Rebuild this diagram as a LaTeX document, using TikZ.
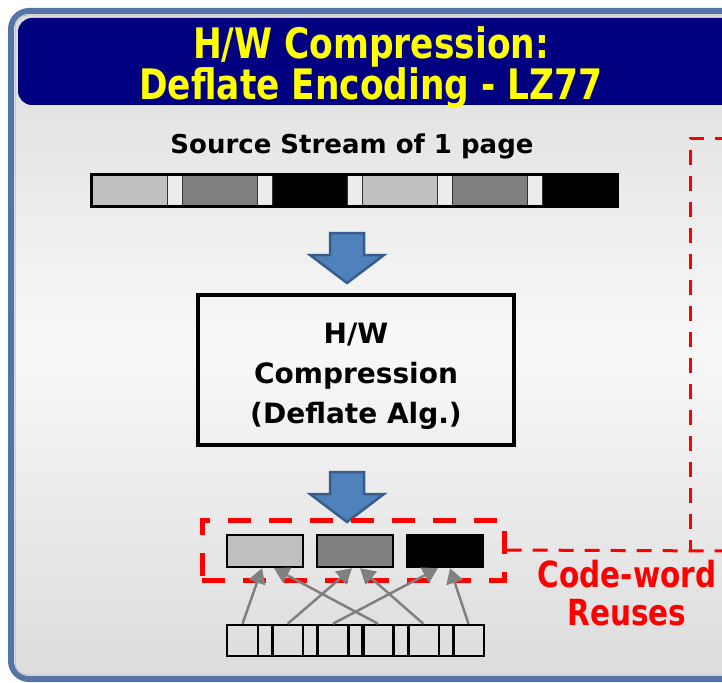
\documentclass[tikz,border=0pt]{standalone}
\usepackage{fontspec}
\setmainfont{DejaVu Sans}
\newfontfamily\narrowfont[FakeStretch=0.82]{DejaVu Sans}
\usetikzlibrary{arrows.meta, positioning, calc}

\definecolor{navy}{RGB}{0,0,128}
\definecolor{titleyellow}{RGB}{255,255,0}
\definecolor{lightseg}{RGB}{192,192,192}
\definecolor{darkseg}{RGB}{128,128,128}
\definecolor{gapseg}{RGB}{236,236,236}
\definecolor{arrowblue}{RGB}{79,129,189}
\definecolor{arrowedge}{RGB}{56,93,138}
\definecolor{refgray}{RGB}{128,128,128}
\definecolor{framblue}{RGB}{84,116,168}
\definecolor{panelgray}{RGB}{220,220,220}
\definecolor{panelwhite}{RGB}{248,248,248}

\begin{document}
\begin{tikzpicture}[
    x=1pt, y=-1pt,
    bararrow/.style={fill=arrowblue, draw=arrowedge, line width=2.5pt, line join=miter},
    segbox/.style={rectangle, draw=black!80, line width=1pt, minimum width=75pt, minimum height=31pt, inner sep=0pt},
    gapbox/.style={segbox, fill=gapseg, minimum width=15pt},
    cwbox/.style={rectangle, draw=black, line width=2.5pt, minimum width=76pt, minimum height=32pt, inner sep=0pt},
    cellbox/.style={rectangle, draw=black, line width=2.5pt, minimum height=31pt, inner sep=0pt},
    reuse/.style={draw=red, line width=5pt, dash pattern=on 23pt off 18pt},
    reuseline/.style={draw=red, line width=3pt, dash pattern=on 15pt off 11pt},
    refarrow/.style={-{Triangle[length=15pt, width=17pt]}, draw=refgray, line width=2.5pt},
    title/.style={font=\narrowfont\bfseries\fontsize{42}{41}\selectfont, align=center}
]
\useasboundingbox (0,0) rectangle (722,682);
\clip (0,0) rectangle (722,682);

% Frame and panel
\draw[framblue, line width=6pt, rounded corners=18pt] (11,11) rectangle (780,679);
\shade[top color=panelgray, bottom color=panelgray, middle color=panelwhite, draw=black!25, line width=1pt, rounded corners=12pt]
    (15,15) rectangle (780,675);

% Title banner
\fill[navy, rounded corners=14pt] (18,18) rectangle (780,105);
\node[title, text=titleyellow] (title) at (371,68) {H/W Compression:\\Deflate Encoding - LZ77};

% Source stream
\node[font=\bfseries\fontsize{26}{30}\selectfont] (srclabel) at (352,146) {Source Stream of 1 page};
\foreach \i/\col in {0/lightseg, 1/darkseg, 2/black, 3/lightseg, 4/darkseg, 5/black}
    \node[segbox, fill=\col] (seg\i) at ({129.5+90*\i},190.5) {};
\foreach \i in {0,...,4}
    \node[gapbox] (gap\i) at ({174.5+90*\i},190.5) {};
\draw[black, line width=2.5pt] (seg0.north west) rectangle (seg5.south east);

% Block arrow to compressor
\draw[bararrow] (330,233) -- (364,233) -- (364,255) -- (384,255) -- (347,283) -- (310,255) -- (330,255) -- cycle;

% Compressor
\node[rectangle, draw=black, line width=3.5pt, minimum width=316pt, minimum height=150pt] (hwbox) at (356,370) {};
\node[align=center, font=\bfseries\fontsize{28}{40}\selectfont] (hwtext) at (356,376) {H/W\\Compression\\(Deflate Alg.)};

% Block arrow to code-words
\draw[bararrow] (330,472) -- (364,472) -- (364,494) -- (384,494) -- (347,522) -- (310,494) -- (330,494) -- cycle;

% Code-words
\node[cwbox, fill=lightseg] (cw1) at (265,551) {};
\node[cwbox, fill=darkseg] (cw2) at (355,551) {};
\node[cwbox, fill=black] (cw3) at (445,551) {};
\node[rectangle, reuse, minimum width=302pt, minimum height=60pt] (reusebox) at (353,550) {};

% Reuse link
\coordinate (edgeLow) at (730,551);
\coordinate (edgeTop) at (730,138);
\coordinate (cornerTop) at (690,138);
\coordinate (cornerLow) at (690,551);
\draw[reuseline] (reusebox.east) -- (edgeLow);
\draw[reuseline] (edgeTop) -- (cornerTop) -- (cornerLow);
\node[font=\narrowfont\bfseries\fontsize{36}{38}\selectfont, text=red, align=center] (reuselabel) at (627,593) {Code-word\\Reuses};

% Stream cells
\foreach \i in {0,...,5}
    \node[cellbox, minimum width=31pt] (cell\i) at ({242.5+45.2*\i},640.5) {};
\foreach \i in {0,...,4}
    \node[cellbox, minimum width=15pt] (link\i) at ({265.5+45.2*\i},640.5) {};

% References
\draw[refarrow] (cell0.north) -- ($(cw1.south)+(-3,0)$);
\draw[refarrow] (cell3.north) -- ($(cw1.south)+(9,0)$);
\draw[refarrow] (cell1.north) -- ($(cw2.south)+(-3,0)$);
\draw[refarrow] (cell4.north) -- ($(cw2.south)+(5,0)$);
\draw[refarrow] (cell2.north) -- ($(cw3.south)+(-7,0)$);
\draw[refarrow] (cell5.north) -- ($(cw3.south)+(5,0)$);

\end{tikzpicture}
\end{document}
